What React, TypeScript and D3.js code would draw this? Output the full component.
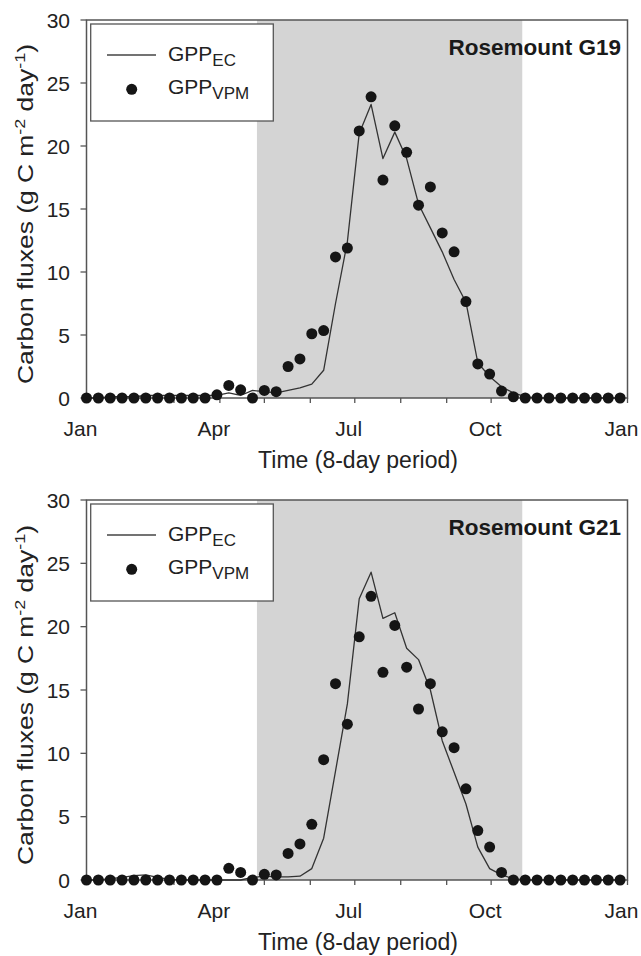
import React from "react";
import * as d3 from "d3";

// 8-day period start (day of year)
const periodDOY = [1, 9, 17, 25, 33, 41, 49, 57, 65, 73, 81, 89, 97, 105, 113, 121, 129, 137, 145, 153, 161, 169, 177, 185, 193, 201, 209, 217, 225, 233, 241, 249, 257, 265, 273, 281, 289, 297, 305, 313, 321, 329, 337, 345, 353, 361];

const g19EC = [0, 0, 0.1, 0.1, 0.1, 0.2, 0.2, 0.2, 0.2, 0.2, 0.2, 0.2, 0.4, 0.2, 0.6, 0.5, 0.4, 0.6, 0.8, 1.1, 2.2, 7.5, 12.4, 21.0, 23.3, 19.0, 21.1, 19.0, 15.4, 13.5, 11.6, 9.4, 7.6, 2.8, 1.7, 0.9, 0.4, 0.1, 0, 0, 0, 0, 0, 0, 0, 0];
const g19VPM = [0, 0, 0, 0, 0, 0, 0, 0, 0, 0, 0, 0.25, 1.0, 0.65, 0, 0.6, 0.5, 2.5, 3.1, 5.1, 5.35, 11.2, 11.9, 21.2, 23.9, 17.3, 21.6, 19.5, 15.3, 16.75, 13.1, 11.6, 7.65, 2.7, 1.9, 0.55, 0.1, 0, 0, 0, 0, 0, 0, 0, 0, 0];

const g21EC = [0, 0, 0.1, 0.2, 0.35, 0.4, 0.2, 0.05, 0, 0, 0, 0, 0, 0, 0.2, 0.3, 0.25, 0.25, 0.3, 0.9, 3.3, 8.6, 13.9, 22.2, 24.3, 20.65, 21.1, 18.3, 17.4, 15.0, 11.0, 8.5, 6.0, 2.6, 0.9, 0.4, 0.1, 0, 0, 0, 0, 0, 0, 0, 0, 0];
const g21VPM = [0, 0, 0, 0, 0, 0, 0, 0, 0, 0, 0, 0, 0.92, 0.6, 0, 0.45, 0.4, 2.1, 2.85, 4.4, 9.5, 15.5, 12.3, 19.2, 22.4, 16.4, 20.1, 16.8, 13.5, 15.5, 11.7, 10.45, 7.2, 3.9, 2.6, 0.6, 0, 0, 0, 0, 0, 0, 0, 0, 0, 0];

const monthTickDOY = [1, 32, 60, 91, 121, 152, 182, 213, 244, 274, 305, 335, 366];
const labelTicks = [
  { doy: 1, label: "Jan" },
  { doy: 91, label: "Apr" },
  { doy: 182, label: "Jul" },
  { doy: 274, label: "Oct" },
  { doy: 366, label: "Jan" },
];
const yTicks = [0, 5, 10, 15, 20, 25, 30];
const seasonStartDOY = 116;
const seasonEndDOY = 295;

const panels = [
  { title: "Rosemount G19", ec: g19EC, vpm: g19VPM, top: 20, bottom: 398 },
  { title: "Rosemount G21", ec: g21EC, vpm: g21VPM, top: 500, bottom: 880 },
];

const FONT = "'Liberation Sans', Arial, Helvetica, sans-serif";

const x = d3.scaleLinear().domain([1, 366]).range([86.5, 627.5]);

function Panel({ p }: { p: typeof panels[number] }) {
  const y = d3.scaleLinear().domain([0, 30]).range([p.bottom, p.top]);
  const line = d3
    .line<number>()
    .x((_, i) => x(periodDOY[i]))
    .y((d) => y(d));
  const x0 = x.range()[0];
  const x1 = x.range()[1];
  const t = p.top;
  return (
    <g>
      <rect x={x(seasonStartDOY)} y={y(30)} width={x(seasonEndDOY) - x(seasonStartDOY)} height={y(0) - y(30)} fill="#d4d4d4" />
      <rect x={x0} y={y(30)} width={x1 - x0} height={y(0) - y(30)} fill="none" stroke="#555" strokeWidth={1.5} />
      {monthTickDOY.map((d, i) => (
        <line key={"mt" + i} x1={x(d)} x2={x(d)} y1={y(0)} y2={y(0) + 5} stroke="#555" strokeWidth={1.3} />
      ))}
      {labelTicks.map((d, i) => (
        <text key={"xl" + i} x={x(d.doy) - 6} y={y(0) + 38} textAnchor="middle" fontSize={21} fontFamily={FONT} fill="#222">
          {d.label}
        </text>
      ))}
      {yTicks.map((v) => (
        <g key={"yt" + v}>
          <line x1={x0 - 6} x2={x0} y1={y(v)} y2={y(v)} stroke="#555" strokeWidth={1.3} />
          <text x={70} y={y(v) + 7.6} textAnchor="end" fontSize={21} fontFamily={FONT} fill="#222">
            {v}
          </text>
        </g>
      ))}
      <text x={(x0 + x1) / 2 + 1} y={y(0) + 70} textAnchor="middle" fontSize={23} fontFamily={FONT} fill="#222">
        Time (8-day period)
      </text>
      <text
        transform={`translate(33, ${(p.top + p.bottom) / 2 + 5}) rotate(-90) scale(1.2, 1)`}
        textAnchor="middle"
        fontSize={22}
        fontFamily={FONT}
        fill="#222"
      >
        Carbon fluxes (g C m
        <tspan fontSize={15} dy={-8}>-2</tspan>
        <tspan dy={8}> day</tspan>
        <tspan fontSize={15} dy={-8}>-1</tspan>
        <tspan dy={8}>)</tspan>
      </text>
      <path d={line(p.ec) || ""} fill="none" stroke="#333" strokeWidth={1.3} strokeLinejoin="round" />
      {p.vpm.map((v, i) => (
        <circle key={"pt" + i} cx={x(periodDOY[i])} cy={y(v)} r={5.5} fill="#151515" />
      ))}
      <text x={621} y={t + 35} textAnchor="end" fontSize={22.5} fontWeight="bold" fontFamily={FONT} fill="#1a1a1a">
        {p.title}
      </text>
      <rect x={90.7} y={t + 4} width={182.6} height={97} fill="#fff" stroke="#555" strokeWidth={1.3} />
      <line x1={107} x2={156} y1={t + 35} y2={t + 35} stroke="#444" strokeWidth={1.3} />
      <text x={168} y={t + 41} fontSize={21} fontFamily={FONT} fill="#222">
        GPP<tspan fontSize={17} dy={5}>EC</tspan>
      </text>
      <circle cx={131.7} cy={t + 69.3} r={5.5} fill="#151515" />
      <text x={168} y={t + 74.3} fontSize={21} fontFamily={FONT} fill="#222">
        GPP<tspan fontSize={17} dy={5}>VPM</tspan>
      </text>
    </g>
  );
}

export default function App() {
  return (
    <svg width={641} height={956} style={{ position: "absolute", left: 0, top: 0, background: "#fff" }}>
      <rect x={0} y={0} width={641} height={956} fill="#fff" />
      {panels.map((p) => (
        <Panel key={p.title} p={p} />
      ))}
    </svg>
  );
}
